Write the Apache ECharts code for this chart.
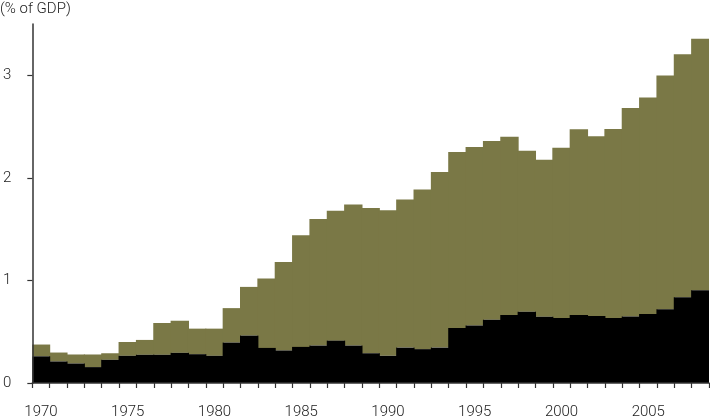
<!DOCTYPE html>
<html>
<head>
<meta charset="utf-8">
<script src="https://cdn.jsdelivr.net/npm/echarts@6/dist/echarts.min.js"></script>
<style>
html,body{margin:0;padding:0;background:#fff;}
#chart{width:710px;height:420px;}
</style>
</head>
<body>
<div id="chart"></div>
<script>
const years = ['1970','1971','1972','1973','1974','1975','1976','1977','1978','1979',
  '1980','1981','1982','1983','1984','1985','1986','1987','1988','1989',
  '1990','1991','1992','1993','1994','1995','1996','1997','1998','1999',
  '2000','2001','2002','2003','2004','2005','2006','2007','2008'];
const publicVals = [0.26,0.21,0.19,0.155,0.226,0.265,0.275,0.275,0.294,0.281,
  0.265,0.394,0.462,0.342,0.317,0.352,0.365,0.413,0.365,0.29,
  0.265,0.345,0.33,0.345,0.537,0.56,0.617,0.662,0.695,0.646,
  0.633,0.662,0.652,0.633,0.649,0.672,0.72,0.836,0.904];
const totalVals = [0.375,0.297,0.278,0.278,0.29,0.40,0.42,0.585,0.607,0.53,
  0.53,0.73,0.937,1.02,1.18,1.44,1.60,1.68,1.74,1.705,
  1.683,1.79,1.887,2.057,2.252,2.30,2.36,2.40,2.264,2.177,
  2.293,2.474,2.406,2.477,2.68,2.784,2.997,3.204,3.356];
const privateVals = totalVals.map((t, i) => +(t - publicVals[i]).toFixed(3));
const yTicks = [0, 1, 2, 3];

const FONT = 'Roboto';
const OLIVE = '#7a7846';
const chart = echarts.init(document.getElementById('chart'), null, {renderer: 'canvas'});
chart.setOption({
  animation: false,
  backgroundColor: '#fff',
  grid: {left: 31, right: 1, top: 24, bottom: 34, containLabel: false},
  xAxis: {
    type: 'category',
    data: years,
    boundaryGap: true,
    z: 10,
    axisLine: {lineStyle: {color: '#333', width: 1.5}},
    axisTick: {show: true, interval: 0, length: 5, lineStyle: {color: '#333', width: 1.2}},
    axisLabel: {interval: 4, margin: 22, color: '#222', fontSize: 15, fontWeight: 300, fontFamily: FONT},
    splitLine: {show: false}
  },
  yAxis: {
    type: 'value',
    min: 0, max: 3.5, interval: 1,
    z: 10,
    axisLine: {show: true, lineStyle: {color: '#333', width: 1.5}},
    axisTick: {show: true, length: 5, customValues: yTicks, lineStyle: {color: '#333', width: 1.2}},
    axisLabel: {customValues: yTicks, margin: 21, color: '#222', fontSize: 15, fontWeight: 300, fontFamily: FONT},
    splitLine: {show: false}
  },
  series: [
    {name: 'Public', type: 'bar', stack: 's', data: publicVals, barCategoryGap: '-6%', barGap: 0, z: 3,
     itemStyle: {color: '#000', borderWidth: 0}},
    {name: 'Private', type: 'bar', stack: 's', data: privateVals, barCategoryGap: '-6%', barGap: 0, z: 2,
     itemStyle: {color: OLIVE, borderWidth: 0}}
  ],
  graphic: [
    {type: 'text', left: 0, top: 2, style: {text: '(% of GDP)', fill: '#222', font: '300 15px ' + FONT}},
    {type: 'text', left: 582, top: 227, style: {text: 'Private', fill: '#e8e8e0', font: '300 14px ' + FONT}},
    {type: 'text', left: 530, top: 348, style: {text: 'Public', fill: '#e8e8e8', font: '300 14px ' + FONT}}
  ]
});
</script>
</body>
</html>
